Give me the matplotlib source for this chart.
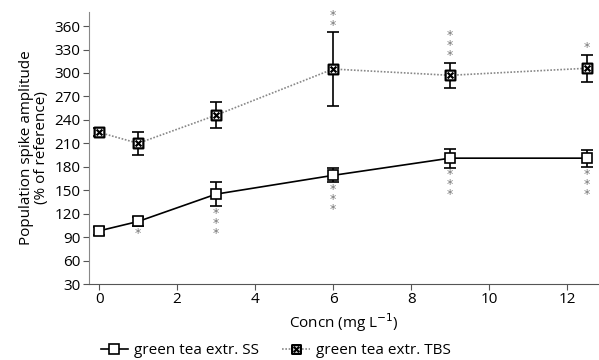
import numpy as np
import matplotlib.pyplot as plt
from matplotlib.path import Path

# Données
concn = [0, 1, 3, 6, 9, 12.5]
ss_mean = [98, 110, 145, 169, 191, 191]
ss_err = [5, 6, 15, 9, 12, 11]
tbs_mean = [224, 210, 246, 305, 297, 306]
tbs_err = [5, 15, 17, 47, 16, 17]
ss_stars = ["", "*", "***", "***", "***", "***"]
tbs_stars = ["", "", "", "**", "***", "*"]

plt.rcParams['font.family'] = ['Open Sans', 'DejaVu Sans']
fig = plt.figure(figsize=(5.99, 3.6), dpi=100)
ax = fig.add_axes([89/599, 1-284/360, 510/599, 272/360])

# Marqueur "carré barré" (carré + croix)
verts = [(-1, -1), (1, -1), (1, 1), (-1, 1), (-1, -1),
         (-0.6, -0.6), (0.6, 0.6), (-0.6, 0.6), (0.6, -0.6)]
codes = [Path.MOVETO, Path.LINETO, Path.LINETO, Path.LINETO, Path.CLOSEPOLY,
         Path.MOVETO, Path.LINETO, Path.MOVETO, Path.LINETO]
boxx = Path(verts, codes)

# Série SS : ligne pleine, carrés blancs
ax.errorbar(concn, ss_mean, yerr=ss_err, fmt='none', ecolor='black',
            elinewidth=1.2, capsize=4, capthick=1.2, zorder=2)
l_ss, = ax.plot(concn, ss_mean, color='black', lw=1.2, marker='s', ms=7.5,
                mfc='white', mec='black', mew=1.2, zorder=3)

# Série TBS : ligne pointillée grise
ax.errorbar(concn, tbs_mean, yerr=tbs_err, fmt='none', ecolor='black',
            elinewidth=1.2, capsize=4, capthick=1.2, zorder=2)
l_tbs, = ax.plot(concn, tbs_mean, color='#888888', lw=1.2, ls=(0, (1, 1)),
                 marker=boxx, ms=7, mfc='white', mec='black', mew=1.6, zorder=3)

# Astérisques de significativité
for x, m, e, s in zip(concn, ss_mean, ss_err, ss_stars):
    if s:
        ax.text(x, m - e - 1, "\n".join(s), ha='center', va='top',
                fontsize=9, color='#777777', family='DejaVu Sans', linespacing=0.7)
for x, m, e, s in zip(concn, tbs_mean, tbs_err, tbs_stars):
    if s:
        ax.text(x, m + e + 1, "\n".join(s), ha='center', va='bottom',
                fontsize=9, color='#777777', family='DejaVu Sans', linespacing=0.7)

ax.set_xlim(-0.26, 12.82)
ax.set_ylim(30, 378)
ax.set_xticks([0, 2, 4, 6, 8, 10, 12])
ax.set_yticks(np.arange(30, 361, 30))
ax.tick_params(labelsize=11, length=4, color='#555555', pad=2)
for side in ['top', 'right']:
    ax.spines[side].set_visible(False)
ax.spines['left'].set_color('#888888')
ax.spines['bottom'].set_color('#555555')

ax.set_xlabel("Concn (mg L$^{-1}$)", fontsize=11, labelpad=3)
ax.set_ylabel("Population spike amplitude\n(% of reference)", fontsize=11,
              linespacing=1.0, labelpad=4)

fig.legend([l_ss, l_tbs], ["green tea extr. SS", "green tea extr. TBS"],
           loc='center', bbox_to_anchor=(0.46, 1-351/360), ncol=2, frameon=False,
           fontsize=11, handlelength=1.8, handletextpad=0.4, columnspacing=1.5,
           markerscale=0.9)

fig.savefig("out.png", dpi=100)
